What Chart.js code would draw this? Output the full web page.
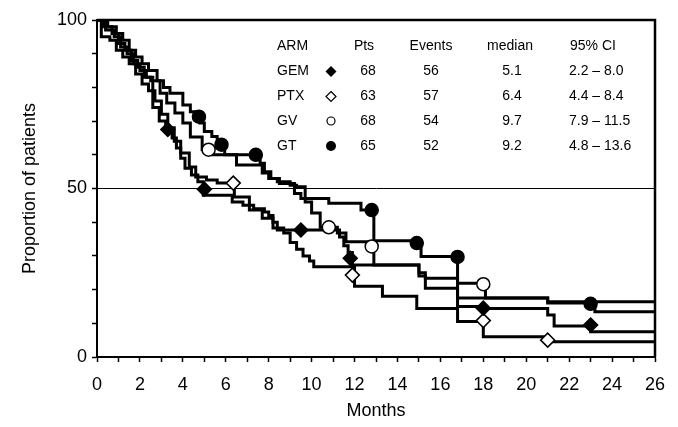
<!DOCTYPE html>
<html>
  <head>
    <style>
      * {
        margin: 0;
        padding: 0;
      }
      body {
        background: #fff;
        overflow: hidden;
      }
      .chartBox {
        width: 678px;
        height: 427px;
      }
    </style>
  </head>
  <body>
    <div class="chartBox">
      <canvas id="myChart"></canvas>
    </div>
    <script src="https://cdn.jsdelivr.net/npm/chart.js/dist/chart.umd.min.js"></script>
    <script>
      // survival curves: time (months) of each step and the proportion after it
      const gemT = [0, 0.3, 0.7, 1.0, 1.3, 1.6, 1.9, 2.2, 2.6, 2.9, 3.2, 3.5, 3.7, 3.9, 4.1, 4.4, 4.7, 4.95, 6.3, 6.8, 7.3, 7.8, 8.0, 8.2, 8.4, 11.3, 11.5, 11.7, 11.9, 15.0, 15.3, 16.8, 18.0, 21.0, 21.3, 23.0, 26];
      const gemS = [100, 98, 96, 93, 91, 88, 86, 83, 74, 70, 67.5, 65, 62, 59, 56, 54, 52, 48, 46, 45, 44, 43, 42, 40, 37.7, 35.6, 33, 31, 27.3, 24, 20.4, 15, 14.4, 12.5, 9.2, 7.5, 7.5];

      const ptxT = [0, 0.2, 0.6, 0.9, 1.2, 1.5, 1.8, 2.1, 2.4, 2.7, 3.0, 3.3, 3.6, 3.9, 4.3, 4.6, 5.1, 5.6, 6.4, 7.1, 7.7, 8.2, 8.7, 9.0, 9.3, 9.6, 9.9, 10.1, 12.0, 13.3, 14.9, 16.8, 18.0, 21.0, 26];
      const ptxS = [100, 95, 94, 91, 89, 87, 84, 81, 79, 76, 72, 68, 64, 60.5, 56.4, 53.4, 52.5, 51.6, 47.5, 43.6, 41.2, 38.3, 36.8, 34, 32, 30, 28.5, 26.8, 21, 18, 14.4, 10.5, 6, 4.5, 4.5];

      const gvT = [0, 0.4, 0.8, 1.1, 1.4, 1.7, 2.0, 2.3, 2.5, 2.94, 3.25, 3.63, 4.0, 4.35, 4.9, 5.4, 6.5, 7.7, 8.0, 8.4, 9.0, 9.3, 9.7, 10.0, 10.4, 11.2, 11.6, 12.9, 15.0, 15.3, 16.8, 18.1, 21.0, 23.2, 26];
      const gvS = [100, 97, 95, 92, 90, 87, 85, 83, 82, 78.3, 75.4, 72.4, 69.4, 65.3, 61.5, 60, 57, 54.6, 53, 52, 51, 50.5, 46, 42.7, 38.5, 36.8, 34.2, 27.3, 25, 23.4, 21.9, 17.5, 16, 13.4, 13.4];

      const gtT = [0, 0.5, 0.9, 1.2, 1.5, 1.8, 2.1, 2.4, 2.8, 3.1, 3.4, 4.0, 4.35, 4.6, 4.8, 5.0, 5.35, 5.6, 5.8, 5.95, 7.6, 7.8, 8.1, 8.5, 9.2, 9.5, 10.8, 12.3, 12.9, 15.1, 16.8, 21.0, 26];
      const gtS = [100, 98, 96, 94, 91, 89, 87, 85, 82, 80, 78.3, 74.8, 72.8, 71.3, 69.4, 66.9, 65.4, 63.9, 62.9, 60, 57.5, 55, 53, 51.5, 48.5, 47, 45.6, 43.6, 34.5, 29.8, 17.5, 16.4, 16.4];

      // symbols placed on the curves
      const gemMarkT = [3.3, 5.0, 9.5, 11.8, 18.0, 23.0];
      const gemMarkS = [67.5, 49.8, 37.7, 29.3, 14.5, 9.5];
      const ptxMarkT = [6.35, 11.9, 18.0, 21.0];
      const ptxMarkS = [51.6, 24.3, 10.8, 5.0];
      const gvMarkT = [5.2, 10.8, 12.8, 18.0];
      const gvMarkS = [61.5, 38.5, 32.8, 21.6];
      const gtMarkT = [4.75, 5.8, 7.4, 12.8, 14.9, 16.8, 23.0];
      const gtMarkS = [71.3, 63, 60, 43.6, 33.8, 29.7, 15.8];

      // summary table
      const arms = ["GEM", "PTX", "GV", "GT"];
      const pts = ["68", "63", "68", "65"];
      const events = ["56", "57", "54", "52"];
      const medians = ["5.1", "6.4", "9.7", "9.2"];
      const cis = ["2.2 \u2013 8.0", "4.4 \u2013 8.4", "7.9 \u2013 11.5", "4.8 \u2013 13.6"];
      const yLabels = [0, 50, 100];

      const FONT = '"Liberation Sans", Arial, Helvetica, sans-serif';
      Chart.defaults.font.family = FONT;
      Chart.defaults.color = "#000";

      const pts2 = (t, s) => t.map((x, i) => ({ x: x, y: s[i] }));

      function curve(t, s) {
        return {
          data: pts2(t, s),
          borderColor: "#000",
          borderWidth: 3,
          stepped: true,
          pointRadius: 0,
          fill: false,
          order: 2,
        };
      }

      function marks(t, s, style, filled, r) {
        return {
          data: pts2(t, s),
          showLine: false,
          pointStyle: style,
          pointRadius: r,
          pointHoverRadius: r,
          pointBackgroundColor: filled ? "#000" : "#fff",
          pointBorderColor: "#000",
          pointBorderWidth: 1.5,
          order: 1,
        };
      }

      // frame, and the summary table in the upper right
      const framePlugin = {
        id: "frame",
        afterDatasetsDraw(chart) {
          const { ctx, chartArea: a } = chart;
          ctx.save();
          ctx.strokeStyle = "#000";
          ctx.lineWidth = 2.5;
          ctx.beginPath();
          ctx.moveTo(a.left, a.top);
          ctx.lineTo(a.right, a.top);
          ctx.lineTo(a.right, a.bottom);
          ctx.stroke();
          ctx.restore();
        },
        afterDraw(chart) {
          const ctx = chart.ctx;
          ctx.save();
          ctx.fillStyle = "#000";
          ctx.font = "14px " + FONT;
          ctx.textBaseline = "middle";
          const rows = [71.5, 96.5, 121, 146];
          ctx.textAlign = "left";
          ctx.fillText("ARM", 277, 46);
          ctx.textAlign = "center";
          ctx.fillText("Pts", 364, 46);
          ctx.fillText("Events", 431, 46);
          ctx.fillText("median", 510, 46);
          ctx.fillText("95% CI", 593, 46);
          arms.forEach((a, i) => {
            const y = rows[i];
            ctx.textAlign = "left";
            ctx.fillText(a, 277, y);
            ctx.fillText(cis[i], 569, y);
            ctx.textAlign = "center";
            ctx.fillText(pts[i], 368, y);
            ctx.fillText(events[i], 431, y);
            ctx.fillText(medians[i], 512, y);
          });
          // legend symbols
          const mx = 331;
          ctx.lineWidth = 1.2;
          ctx.strokeStyle = "#000";
          const diamond = (y, r, filled) => {
            ctx.beginPath();
            ctx.moveTo(mx, y - r);
            ctx.lineTo(mx + r, y);
            ctx.lineTo(mx, y + r);
            ctx.lineTo(mx - r, y);
            ctx.closePath();
            if (filled) ctx.fill();
            else ctx.stroke();
          };
          diamond(rows[0], 5.5, true);
          diamond(rows[1], 5, false);
          ctx.beginPath();
          ctx.arc(mx, rows[2], 4, 0, Math.PI * 2);
          ctx.stroke();
          ctx.beginPath();
          ctx.arc(mx, rows[3], 5, 0, Math.PI * 2);
          ctx.fill();
          ctx.restore();
        },
      };

      const data = {
        datasets: [
          marks(gtMarkT, gtMarkS, "circle", true, 6.5),
          marks(gvMarkT, gvMarkS, "circle", false, 6.5),
          marks(gemMarkT, gemMarkS, "rectRot", true, 7),
          marks(ptxMarkT, ptxMarkS, "rectRot", false, 7),
          curve(gemT, gemS),
          curve(ptxT, ptxS),
          curve(gvT, gvS),
          curve(gtT, gtS),
        ],
      };

      // config
      const config = {
        type: "line",
        data,
        plugins: [framePlugin],
        options: {
          responsive: true,
          maintainAspectRatio: false,
          animation: false,
          events: [],
          layout: { padding: { top: 20, right: 23, left: 0, bottom: 0 } },
          plugins: {
            legend: { display: false },
            tooltip: { enabled: false },
          },
          scales: {
            x: {
              type: "linear",
              min: 0,
              max: 26,
              afterFit: (s) => {
                s.height = 70;
              },
              border: { color: "#000", width: 2 },
              grid: {
                drawOnChartArea: false,
                color: "#000",
                tickColor: "#000",
                tickLength: 5,
                tickWidth: 1.5,
              },
              ticks: {
                stepSize: 1,
                autoSkip: false,
                maxRotation: 0,
                padding: 12,
                font: { size: 18 },
                callback: (v) => (v % 2 === 0 ? v : ""),
              },
              title: {
                display: true,
                text: "Months",
                font: { size: 18 },
                padding: { top: 0, bottom: 5 },
              },
            },
            y: {
              min: 0,
              max: 100,
              afterFit: (s) => {
                s.width = 97;
              },
              border: { color: "#000", width: 2 },
              grid: {
                color: (c) => (c.tick && c.tick.value === 50 ? "#000" : "rgba(0,0,0,0)"),
                lineWidth: 1,
                tickColor: "#000",
                tickLength: 5,
                tickWidth: 1.5,
              },
              ticks: {
                stepSize: 10,
                padding: 5,
                font: { size: 18 },
                callback: (v) => (yLabels.includes(v) ? v : ""),
              },
              title: {
                display: true,
                text: "Proportion of patients",
                font: { size: 18 },
                padding: { top: 19, bottom: 0 },
              },
            },
          },
        },
      };

      // render init block
      const myChart = new Chart(document.getElementById("myChart"), config);
    </script>
  </body>
</html>
